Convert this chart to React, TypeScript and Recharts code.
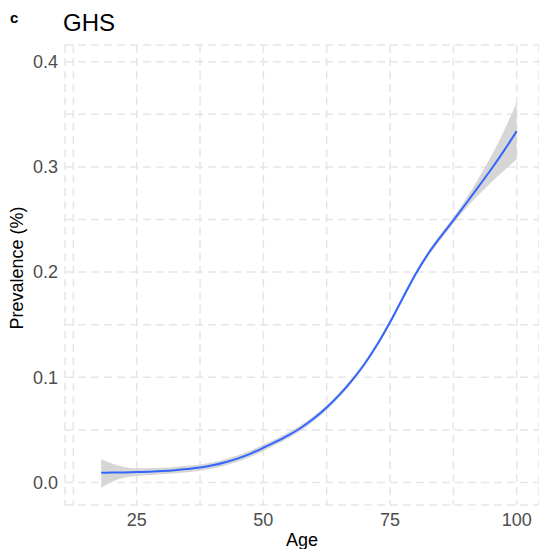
import { ComposedChart, Area, Line, XAxis, YAxis, CartesianGrid } from "recharts";

const ages = [18, 20, 22.5, 25, 27.5, 30, 32.5, 35, 37.5, 40, 42.5, 45, 47.5, 50, 52.5, 55, 57.5, 60, 62.5, 65, 67.5, 70, 72.5, 75, 77.5, 80, 82.5, 85, 87.5, 90, 92.5, 95, 97.5, 100];
const prevalence = [0.0093, 0.0094, 0.0096, 0.0099, 0.0103, 0.0109, 0.0117, 0.0128, 0.0142, 0.0163, 0.0192, 0.0229, 0.0275, 0.033, 0.0388, 0.0451, 0.0523, 0.061, 0.0713, 0.0833, 0.0971, 0.1129, 0.1314, 0.1524, 0.1752, 0.1977, 0.2172, 0.2337, 0.2492, 0.2652, 0.2815, 0.298, 0.3155, 0.334];
const lower = [-0.005, 0.0004, 0.0046, 0.0062, 0.007, 0.0078, 0.0087, 0.0098, 0.0112, 0.0133, 0.0162, 0.0199, 0.0245, 0.03, 0.036, 0.0424, 0.0497, 0.0585, 0.069, 0.0811, 0.0949, 0.1107, 0.1292, 0.1502, 0.1729, 0.1953, 0.2147, 0.231, 0.2462, 0.2607, 0.2735, 0.2855, 0.2965, 0.307];
const upper = [0.022, 0.0182, 0.0148, 0.0136, 0.0136, 0.014, 0.0147, 0.0158, 0.0172, 0.0193, 0.0222, 0.0259, 0.0305, 0.036, 0.0416, 0.0478, 0.0549, 0.0635, 0.0736, 0.0855, 0.0993, 0.1151, 0.1336, 0.1546, 0.1775, 0.2001, 0.2197, 0.2364, 0.2522, 0.2697, 0.2895, 0.3105, 0.3345, 0.361];

const xTicks = [12.5, 25, 37.5, 50, 62.5, 75, 87.5, 100];
const yTicks = [0, 0.05, 0.1, 0.15, 0.2, 0.25, 0.3, 0.35, 0.4];

const data = ages.map((age, i) => ({
  age,
  prevalence: prevalence[i],
  band: [lower[i], upper[i]],
}));

const font = "Liberation Sans, Arial, Helvetica, sans-serif";
const tickStyle = { fill: "#4d4d4d", fontSize: 18, fontFamily: font };

// only label the major breaks, minor ones just get grid lines
const fmtX = (v: number) => (v % 25 === 0 ? String(v) : "");
const fmtY = (v: number) =>
  Math.abs(v * 10 - Math.round(v * 10)) < 1e-6 ? v.toFixed(1) : "";

export default function App() {
  return (
    <div style={{ position: "absolute", left: 0, top: 0, width: 539, height: 549, background: "#fff" }}>
      <ComposedChart
        width={539}
        height={549}
        data={data}
        margin={{ top: 45, right: 0, bottom: 0, left: 0 }}
      >
        <CartesianGrid stroke="#e6e6e6" strokeWidth={1.5} strokeDasharray="8 5" />
        <XAxis
          type="number"
          dataKey="age"
          domain={[10.85, 104.4]}
          ticks={xTicks}
          interval={0}
          tickFormatter={fmtX}
          axisLine={false}
          tickLine={false}
          height={44}
          tick={tickStyle}
          allowDataOverflow
          label={{
            content: () => (
              <text x={302} y={546} textAnchor="middle" fontSize={18} fontFamily={font} fill="#000">
                Age
              </text>
            ),
          }}
        />
        <YAxis
          type="number"
          domain={[-0.0214, 0.4159]}
          ticks={yTicks}
          interval={0}
          tickFormatter={fmtY}
          axisLine={false}
          tickLine={false}
          width={65}
          tickMargin={1}
          tick={tickStyle}
          allowDataOverflow
          label={{
            content: () => (
              <text
                x={17}
                y={268}
                transform="rotate(-90 17 268)"
                textAnchor="middle"
                dominantBaseline="central"
                fontSize={18}
                fontFamily={font}
                fill="#000"
              >
                Prevalence (%)
              </text>
            ),
          }}
        />
        <Area
          type="monotone"
          dataKey="band"
          stroke="none"
          fill="#d6d6d6"
          fillOpacity={1}
          isAnimationActive={false}
        />
        <Line
          type="monotone"
          dataKey="prevalence"
          stroke="#3366ff"
          strokeWidth={2}
          dot={false}
          activeDot={false}
          isAnimationActive={false}
        />
      </ComposedChart>
      <div style={{ position: "absolute", left: 10, top: 9, fontFamily: font, fontWeight: "bold", fontSize: 15, lineHeight: "17px" }}>
        c
      </div>
      <div style={{ position: "absolute", left: 63, top: 9, fontFamily: font, fontSize: 24, lineHeight: "27px" }}>
        GHS
      </div>
    </div>
  );
}
